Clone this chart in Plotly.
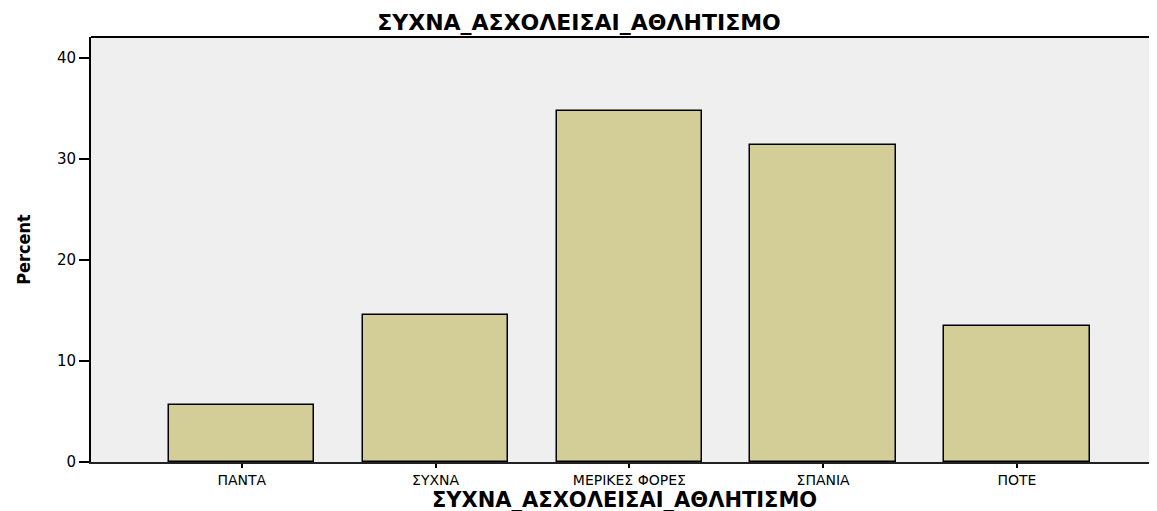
import plotly.graph_objects as go

# ── Data ────────────────────────────────────────────────────────────────────
categories = ["ΠΑΝΤΑ", "ΣΥΧΝΑ", "ΜΕΡΙΚΕΣ ΦΟΡΕΣ", "ΣΠΑΝΙΑ", "ΠΟΤΕ"]
percent = [5.6, 14.6, 34.8, 31.4, 13.5]
y_ticks = [0, 10, 20, 30, 40]

title_text = "ΣΥΧΝΑ_ΑΣΧΟΛΕΙΣΑΙ_ΑΘΛΗΤΙΣΜΟ"

BAR_FILL = "#D3CE97"
PLOT_BG = "#EFEFEF"

# page body adds an 8px offset, so the figure is sized to fit the window
W, H = 1149, 503

fig = go.Figure()

fig.add_trace(go.Bar(
    x=list(range(len(categories))),
    y=percent,
    width=0.75,
    marker=dict(color=BAR_FILL, line=dict(color="#000000", width=1.5)),
    hoverinfo="skip",
))

# ── Layout ──────────────────────────────────────────────────────────────────
fig.update_layout(
    width=W,
    height=H,
    margin=dict(l=83, r=0, t=29, b=49),
    paper_bgcolor="white",
    plot_bgcolor=PLOT_BG,
    showlegend=False,
    bargap=0,
    title=dict(
        text=title_text,
        x=(579 - 8) / W, xref="container", xanchor="center",
        y=1 - 14 / H, yref="container", yanchor="middle",
        font=dict(family="DejaVu Sans", size=22, color="#000000", weight="bold"),
    ),
    font=dict(family="DejaVu Sans", size=14, color="#000000"),
)

fig.update_xaxes(
    range=[-0.778, 4.723],
    tickmode="array",
    tickvals=list(range(len(categories))),
    ticktext=categories,
    ticks="outside", ticklen=4, tickwidth=2, tickcolor="#000000",
    showline=True, linecolor="#222222", linewidth=2,
    showgrid=False, zeroline=False,
    tickfont=dict(family="DejaVu Sans", size=14),
)

fig.update_yaxes(
    range=[0, 42.1],
    tickmode="array",
    tickvals=y_ticks,
    ticks="outside", ticklen=10, tickwidth=1.5, tickcolor="#000000",
    showline=True, linecolor="#000000", linewidth=2,
    showgrid=False, zeroline=False,
    tickfont=dict(family="DejaVu Sans", size=15),
    title=dict(
        text="Percent",
        font=dict(family="DejaVu Sans Condensed, Liberation Sans", size=18, weight="bold"),
        standoff=22,
    ),
)

# x-axis title placed as annotation for exact position below tick labels
fig.add_annotation(
    text=title_text, showarrow=False,
    xref="paper", yref="paper", x=0.5, y=0,
    xanchor="center", yanchor="middle", yshift=-38,
    font=dict(family="DejaVu Sans", size=21, color="#000000", weight="bold"),
)

# top frame line
fig.add_shape(type="line", xref="paper", yref="paper",
              x0=0, x1=1, y0=1, y1=1,
              line=dict(color="#000000", width=2))

fig.write_html("out.html")
